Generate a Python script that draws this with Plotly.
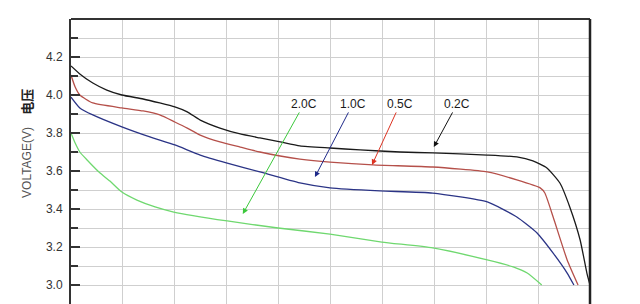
import plotly.graph_objects as go

# ---- data (x: discharge capacity %, y: voltage V) ----
x_02 = [0, 1.7, 4.2, 6.9, 9.8, 13.9, 17.1, 20.0, 22.4, 24.9, 28.7, 32.6, 36.4, 40.3, 44.1, 49.9, 55.7, 63.4, 69.7, 80.2, 85.9, 89.0, 91.7, 94.2, 96.1, 98.1, 99.4, 100]
y_02 = [4.153, 4.111, 4.063, 4.026, 4.0, 3.979, 3.958, 3.937, 3.911, 3.868, 3.826, 3.795, 3.774, 3.753, 3.732, 3.721, 3.711, 3.700, 3.695, 3.684, 3.674, 3.653, 3.616, 3.537, 3.411, 3.237, 3.063, 3.0]

x_05 = [0, 0.8, 1.7, 4.2, 9.8, 13.9, 17.1, 20.0, 22.4, 24.9, 28.7, 32.6, 36.4, 40.3, 44.1, 49.9, 58.2, 69.7, 80.2, 85.9, 90.4, 91.3, 92.9, 95.6, 97.7]
y_05 = [4.105, 4.042, 4.0, 3.958, 3.932, 3.916, 3.895, 3.858, 3.826, 3.789, 3.753, 3.726, 3.700, 3.679, 3.663, 3.647, 3.632, 3.621, 3.595, 3.553, 3.511, 3.484, 3.358, 3.132, 3.0]

x_10 = [0, 1.7, 4.2, 9.8, 15.2, 20.0, 24.9, 30.1, 36.4, 44.1, 49.9, 59.5, 69.7, 80.2, 85.9, 89.8, 92.9, 95.6, 96.9]
y_10 = [3.989, 3.932, 3.895, 3.832, 3.779, 3.737, 3.684, 3.642, 3.595, 3.537, 3.511, 3.495, 3.484, 3.437, 3.358, 3.274, 3.168, 3.063, 3.0]

x_20 = [0, 0.8, 1.7, 3.1, 5.6, 7.5, 9.8, 12.7, 16.2, 19.8, 30.1, 39.9, 49.9, 59.9, 69.7, 80.2, 85.2, 87.9, 90.7]
y_20 = [3.8, 3.747, 3.7, 3.658, 3.589, 3.547, 3.489, 3.447, 3.411, 3.384, 3.337, 3.3, 3.268, 3.226, 3.195, 3.132, 3.095, 3.063, 3.0]

labels = ["2.0C", "1.0C", "0.5C", "0.2C"]
label_x = [44.9, 54.3, 63.4, 74.4]
label_y = [3.953, 3.953, 3.953, 3.953]
tip_x = [33.1, 47.0, 58.0, 69.9]
tip_y = [3.374, 3.568, 3.632, 3.726]

y_major = [3.0, 3.2, 3.4, 3.6, 3.8, 4.0, 4.2]
y_minor = [2.9, 3.1, 3.3, 3.5, 3.7, 3.9, 4.1, 4.3]
x_grid = [10, 20, 30, 40, 50, 60, 70, 80, 90]

# ---- styling ----
curve_colors = ["#6fd86f", "#2b3486", "#b5504a", "#1a1a1a"]
arrow_colors = ["#3cc83c", "#1f2a8a", "#dd3322", "#111111"]

fig = go.Figure()
series = [(x_20, y_20), (x_10, y_10), (x_05, y_05), (x_02, y_02)]
for (xs, ys), c in zip(series, curve_colors):
    fig.add_trace(go.Scatter(x=xs, y=ys, mode="lines",
                             line=dict(color=c, width=1.3, shape="spline", smoothing=0.5),
                             showlegend=False, hoverinfo="skip"))

for t, lx, ly, tx, ty, ac in zip(labels, label_x, label_y, tip_x, tip_y, arrow_colors):
    fig.add_annotation(x=tx, y=ty, ax=lx, ay=ly, axref="x", ayref="y", xref="x", yref="y",
                       text=t, showarrow=True, arrowhead=2, arrowsize=1.1, arrowwidth=1,
                       arrowcolor=ac, standoff=0, startstandoff=0,
                       font=dict(family="Liberation Sans, Arial", size=12, color="#1a1a1a"))

fig.add_annotation(xref="paper", yref="paper", x=-0.085, y=0.709, text="<b>电压</b>",
                   textangle=-90, showarrow=False, xanchor="center", yanchor="middle",
                   font=dict(family="Noto Sans CJK SC", size=13, color="#222"))
fig.add_annotation(xref="paper", yref="paper", x=-0.085, y=0.498, text="VOLTAGE(V)",
                   textangle=-90, showarrow=False, xanchor="center", yanchor="middle",
                   font=dict(family="Liberation Sans, Arial", size=12, color="#555"))

fig.update_xaxes(range=[0, 100], showticklabels=False, tickvals=x_grid, ticks="",
                 showgrid=True, gridcolor="#cfcfcf", gridwidth=1, zeroline=False,
                 showline=False)
fig.update_yaxes(range=[2.9, 4.4], tickvals=y_major, ticktext=[f"{v:.1f}" for v in y_major],
                 ticks="inside", ticklen=9, tickwidth=2, tickcolor="#333",
                 showgrid=True, gridcolor="#cfcfcf", gridwidth=1, zeroline=False,
                 showline=True, linecolor="#333", linewidth=2,
                 tickfont=dict(family="Liberation Sans, Arial", size=12, color="#333"),
                 ticklabelstandoff=4,
                 minor=dict(tickvals=y_minor, ticks="inside", ticklen=7, tickwidth=2,
                            tickcolor="#333", showgrid=True, gridcolor="#cfcfcf", gridwidth=1))

fig.add_shape(type="line", xref="paper", yref="paper", x0=0, x1=1, y0=1, y1=1,
              line=dict(color="#333", width=2))
fig.add_shape(type="line", xref="paper", yref="paper", x0=1, x1=1, y0=0, y1=1,
              line=dict(color="#222", width=2.5))

fig.update_layout(width=640, height=304, margin=dict(l=71, r=50, t=19, b=0),
                  paper_bgcolor="white", plot_bgcolor="white")

fig.write_html("out.html")
